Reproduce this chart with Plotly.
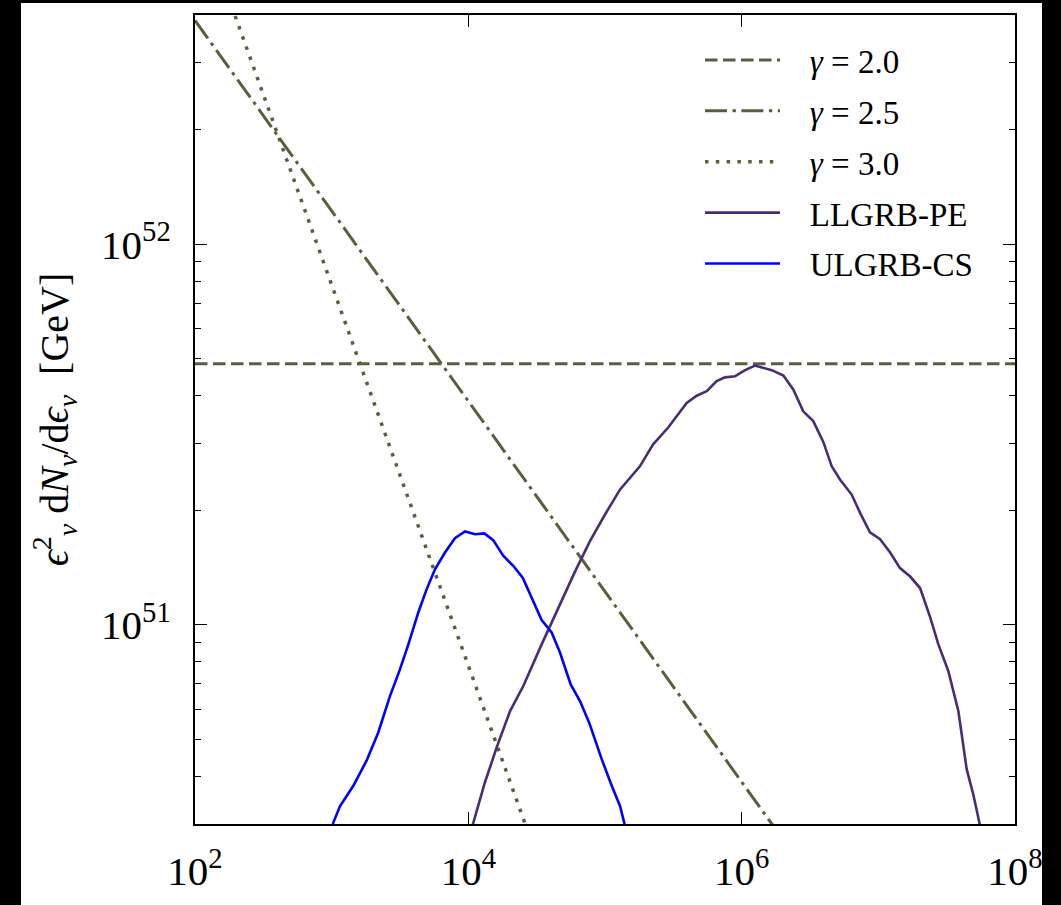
import plotly.graph_objects as go

# ---------------- data ----------------
# Power-law reference spectra: end points over the plotted energy range
pl_energy = [1e2, 1e8]
pl_gamma20 = [4.85e51, 4.85e51]
pl_gamma25 = [3.87e52, 3.87e49]
pl_gamma30 = [7.82e52, 7.82e46]

# LLGRB-PE spectrum (energy in GeV, eps^2 dN/deps in GeV)
pe_energy = [1.02e4, 1.09e4, 1.32e4, 1.61e4, 2.02e4, 2.52e4, 3.44e4, 4.69e4, 6.03e4,
             7.76e4, 1.00e5, 1.29e5, 1.80e5, 2.25e5, 2.90e5, 3.96e5, 4.69e5, 5.55e5,
             6.56e5, 7.55e5, 8.93e5, 1.06e6, 1.25e6, 1.66e6, 2.02e6, 2.39e6, 2.82e6,
             3.34e6, 3.95e6, 4.56e6, 5.24e6, 6.38e6, 7.35e6, 8.69e6, 1.03e7, 1.22e7,
             1.44e7, 1.71e7, 2.02e7, 2.39e7, 2.75e7, 3.25e7, 3.85e7, 4.43e7, 4.95e7,
             5.48e7, 5.75e7]
pe_flux = [2.81e50, 3.03e50, 3.85e50, 4.76e50, 5.94e50, 6.90e50, 8.89e50, 1.14e51, 1.38e51,
           1.66e51, 1.95e51, 2.27e51, 2.61e51, 2.98e51, 3.30e51, 3.83e51, 4.00e51, 4.11e51,
           4.37e51, 4.47e51, 4.50e51, 4.67e51, 4.80e51, 4.67e51, 4.52e51, 4.15e51, 3.64e51,
           3.43e51, 3.03e51, 2.61e51, 2.41e51, 2.20e51, 1.97e51, 1.75e51, 1.68e51, 1.55e51,
           1.41e51, 1.34e51, 1.25e51, 1.05e51, 8.89e50, 7.57e50, 5.94e50, 4.18e50, 3.59e50,
           3.03e50, 2.79e50]

# ULGRB-CS spectrum
cs_energy = [9.73e2, 1.03e3, 1.15e3, 1.44e3, 1.80e3, 2.19e3, 2.67e3, 3.16e3, 3.64e3,
             4.31e3, 4.95e3, 5.70e3, 6.75e3, 7.98e3, 9.46e3, 1.12e4, 1.31e4, 1.52e4,
             1.80e4, 2.13e4, 2.50e4, 2.91e4, 3.44e4, 4.07e4, 4.69e4, 5.61e4, 6.56e4,
             7.67e4, 9.46e4, 1.12e5, 1.29e5, 1.38e5, 1.45e5]
cs_flux = [2.82e50, 3.03e50, 3.34e50, 3.78e50, 4.40e50, 5.21e50, 6.50e50, 7.64e50, 8.89e50,
           1.08e51, 1.24e51, 1.40e51, 1.55e51, 1.69e51, 1.76e51, 1.73e51, 1.74e51, 1.67e51,
           1.52e51, 1.43e51, 1.33e51, 1.18e51, 1.03e51, 9.55e50, 8.45e50, 6.98e50, 6.31e50,
           5.53e50, 4.44e50, 3.78e50, 3.34e50, 3.03e50, 2.82e50]

x_tickvals = [1e2, 1e4, 1e6, 1e8]
x_ticktext = ["10<sup>2</sup>", "10<sup>4</sup>", "10<sup>6</sup>", "10<sup>8</sup>"]
y_tickvals = [1e51, 1e52]
y_ticktext = ["10<sup>51</sup>", "10<sup>52</sup>"]
y_minor = [3e50, 4e50, 5e50, 6e50, 7e50, 8e50, 9e50,
           2e51, 3e51, 4e51, 5e51, 6e51, 7e51, 8e51, 9e51, 2e52, 3e52]

x_range_log = [2, 8]
y_range_log = [50.4771, 52.6021]

# ---------------- styles ----------------
OLIVE = "#5b5e3c"
PURPLE = "#4a2c73"
BLUE = "#0000ff"
FONT = "Liberation Serif"
PAD = "&nbsp;&nbsp;&nbsp;"

fig = go.Figure()
fig.add_trace(go.Scatter(x=pl_energy, y=pl_gamma20, mode="lines", name=PAD + "<i>γ</i> = 2.0",
                         legendgroup="a",
                         line=dict(color=OLIVE, width=3, dash="12.5px,5.5px")))
fig.add_trace(go.Scatter(x=pl_energy, y=pl_gamma25, mode="lines", name=PAD + "<i>γ</i> = 2.5",
                         legendgroup="b",
                         line=dict(color=OLIVE, width=3, dash="22px,5.5px,3.4px,5.5px")))
fig.add_trace(go.Scatter(x=pl_energy, y=pl_gamma30, mode="lines", name=PAD + "<i>γ</i> = 3.0",
                         legendgroup="c",
                         line=dict(color=OLIVE, width=3.5, dash="3.5px,7.3px")))
fig.add_trace(go.Scatter(x=pe_energy, y=pe_flux, mode="lines", name=PAD + "LLGRB-PE",
                         legendgroup="d",
                         line=dict(color=PURPLE, width=2.6)))
fig.add_trace(go.Scatter(x=cs_energy, y=cs_flux, mode="lines", name=PAD + "ULGRB-CS",
                         legendgroup="e",
                         line=dict(color=BLUE, width=2.6)))

W, H = 1061, 905
ml, mr, mt, mb = 195, 46, 15, 81
pw, ph = W - ml - mr, H - mt - mb

# white figure face over black surround
fig.add_shape(type="rect", xref="paper", yref="paper", layer="below",
              x0=(21 - ml) / pw, x1=(1042 - ml) / pw,
              y0=(H - mb - 905) / ph, y1=(H - mb - 3) / ph,
              fillcolor="white", line=dict(width=0))

axis_common = dict(showgrid=False, zeroline=False, showline=True, linecolor="black",
                   linewidth=2, mirror="allticks", ticks="inside", tickcolor="black",
                   tickwidth=1.2, ticklen=12, automargin=False)

ytitle = ("<i>ϵ</i><sup>2</sup><sub><i>ν</i></sub>&nbsp;d<i>N</i><sub><i>ν</i></sub>/"
          "d<i>ϵ</i><sub><i>ν</i></sub>&nbsp;&nbsp;[GeV]")

fig.update_layout(
    width=W, height=H,
    margin=dict(l=ml, r=mr, t=mt, b=mb, pad=0),
    paper_bgcolor="black", plot_bgcolor="white",
    font=dict(family=FONT, color="black", size=30),
    showlegend=True,
    legend=dict(x=(700 - ml) / pw, y=(H - mb - 32) / ph, xanchor="left", yanchor="top",
                bgcolor="rgba(0,0,0,0)", borderwidth=0, itemwidth=75,
                tracegroupgap=5, font=dict(family=FONT, size=33, color="black")),
    xaxis=dict(type="log", range=x_range_log, tickmode="array", tickvals=x_tickvals,
               ticktext=x_ticktext, tickfont=dict(family=FONT, size=41, color="black"),
               ticklabelstandoff=10, **axis_common),
    yaxis=dict(type="log", range=y_range_log, tickmode="array", tickvals=y_tickvals,
               ticktext=y_ticktext, tickfont=dict(family=FONT, size=41, color="black"),
               ticklabelstandoff=14,
               minor=dict(tickmode="array", tickvals=y_minor, ticks="inside", ticklen=6,
                          tickcolor="black", tickwidth=1.2, showgrid=False),
               title=dict(text=ytitle,
                          font=dict(family=FONT, size=40, color="black"), standoff=20),
               **axis_common),
)

fig.write_html("out.html")
